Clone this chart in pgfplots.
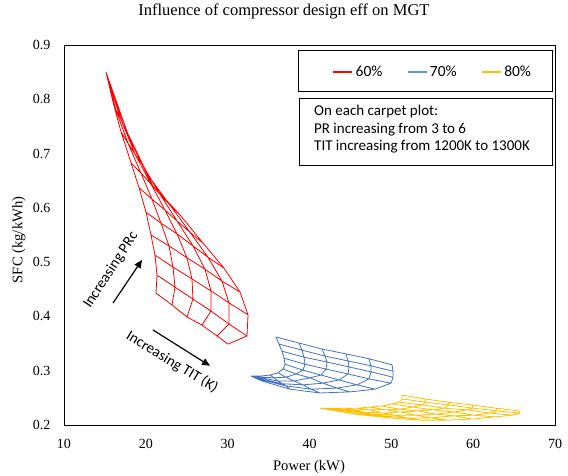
\documentclass[border=0pt]{standalone}
\usepackage{fontspec}
\setmainfont{Liberation Serif}
\newfontfamily\calibri{Carlito}
\usepackage{pgfplots}
\pgfplotsset{compat=1.18}
\usepackage{pgfplotstable}
\usetikzlibrary{arrows.meta}
\definecolor{cred}{RGB}{255,0,0}
\definecolor{cblue}{RGB}{68,114,196}
\definecolor{cblueleg}{RGB}{91,155,213}
\definecolor{cyellow}{RGB}{255,192,0}

% 60% carpet: rows (constant PR) then columns (constant TIT), nan = break
\pgfplotstableread{
x y
21.24 0.443
23.20 0.421
25.03 0.399
26.86 0.384
28.70 0.364
30.04 0.349
nan nan
21.37 0.476
23.56 0.454
25.76 0.432
27.96 0.410
30.16 0.386
32.36 0.364
nan nan
21.12 0.513
23.32 0.491
25.64 0.469
27.96 0.447
30.16 0.425
32.49 0.403
nan nan
20.63 0.550
22.83 0.530
25.03 0.508
27.23 0.487
29.31 0.465
31.51 0.445
nan nan
20.02 0.592
21.85 0.572
23.81 0.552
25.76 0.530
27.60 0.509
29.55 0.489
nan nan
19.17 0.637
20.75 0.616
22.34 0.596
23.81 0.576
25.40 0.555
26.99 0.535
nan nan
18.19 0.683
19.41 0.664
20.63 0.644
21.73 0.625
22.95 0.605
24.18 0.587
nan nan
16.97 0.740
17.82 0.719
18.68 0.699
19.53 0.681
20.27 0.660
20.88 0.640
nan nan
15.99 0.795
16.35 0.780
16.84 0.767
17.21 0.753
17.70 0.740
18.07 0.725
nan nan
21.24 0.443
21.37 0.476
21.12 0.513
20.63 0.550
20.02 0.592
19.17 0.637
18.19 0.683
16.97 0.740
15.99 0.795
15.13 0.850
nan nan
23.20 0.421
23.56 0.454
23.32 0.491
22.83 0.530
21.85 0.572
20.75 0.616
19.41 0.664
17.82 0.719
16.35 0.780
15.13 0.850
nan nan
25.03 0.399
25.76 0.432
25.64 0.469
25.03 0.508
23.81 0.552
22.34 0.596
20.63 0.644
18.68 0.699
16.84 0.767
15.13 0.850
nan nan
26.86 0.384
27.96 0.410
27.96 0.447
27.23 0.487
25.76 0.530
23.81 0.576
21.73 0.625
19.53 0.681
17.21 0.753
15.13 0.850
nan nan
28.70 0.364
30.16 0.386
30.16 0.425
29.31 0.465
27.60 0.509
25.40 0.555
22.95 0.605
20.27 0.660
17.70 0.740
15.13 0.850
nan nan
30.04 0.349
32.36 0.364
32.49 0.403
31.51 0.445
29.55 0.489
26.99 0.535
24.18 0.587
20.88 0.640
18.07 0.725
15.13 0.850
}\redcarpet

% 70% carpet
\pgfplotstableread{
x y
35.91 0.362
38.72 0.351
41.53 0.340
44.46 0.331
47.27 0.322
50.08 0.311
nan nan
36.27 0.349
39.08 0.338
41.90 0.327
44.71 0.318
47.52 0.309
50.21 0.299
nan nan
36.64 0.336
39.33 0.325
42.14 0.316
44.83 0.307
47.52 0.298
50.21 0.288
nan nan
36.89 0.323
39.45 0.312
42.02 0.303
44.71 0.294
47.27 0.285
49.96 0.277
nan nan
37.01 0.312
39.21 0.301
41.41 0.292
43.61 0.283
45.81 0.274
48.01 0.266
nan nan
36.76 0.303
38.35 0.294
40.06 0.287
41.65 0.277
43.36 0.268
44.95 0.261
nan nan
36.15 0.296
37.13 0.288
38.11 0.281
39.21 0.274
40.18 0.266
41.28 0.259
nan nan
35.17 0.292
35.66 0.287
36.15 0.281
36.64 0.276
37.13 0.272
37.62 0.266
nan nan
33.95 0.290
33.95 0.288
34.07 0.287
34.07 0.285
34.20 0.283
34.20 0.281
nan nan
35.91 0.362
36.27 0.349
36.64 0.336
36.89 0.323
37.01 0.312
36.76 0.303
36.15 0.296
35.17 0.292
33.95 0.290
32.85 0.290
nan nan
38.72 0.351
39.08 0.338
39.33 0.325
39.45 0.312
39.21 0.301
38.35 0.294
37.13 0.288
35.66 0.287
33.95 0.288
32.85 0.290
nan nan
41.53 0.340
41.90 0.327
42.14 0.316
42.02 0.303
41.41 0.292
40.06 0.287
38.11 0.281
36.15 0.281
34.07 0.287
32.85 0.290
nan nan
44.46 0.331
44.71 0.318
44.83 0.307
44.71 0.294
43.61 0.283
41.65 0.277
39.21 0.274
36.64 0.276
34.07 0.285
32.85 0.290
nan nan
47.27 0.322
47.52 0.309
47.52 0.298
47.27 0.285
45.81 0.274
43.36 0.268
40.18 0.266
37.13 0.272
34.20 0.283
32.85 0.290
nan nan
50.08 0.311
50.21 0.299
50.21 0.288
49.96 0.277
48.01 0.266
44.95 0.261
41.28 0.259
37.62 0.266
34.20 0.281
32.85 0.290
}\bluecarpet

% 80% carpet
\pgfplotstableread{
x y
51.31 0.255
54.12 0.248
56.93 0.242
59.86 0.237
62.79 0.231
65.60 0.226
nan nan
51.31 0.248
54.24 0.242
57.05 0.237
59.98 0.231
62.92 0.226
65.73 0.222
nan nan
50.94 0.242
53.75 0.237
56.44 0.231
59.25 0.228
62.06 0.222
64.75 0.218
nan nan
50.08 0.239
52.65 0.233
55.09 0.228
57.66 0.224
60.10 0.218
62.67 0.215
nan nan
48.86 0.235
51.06 0.229
53.26 0.226
55.46 0.220
57.66 0.217
59.86 0.211
nan nan
47.39 0.233
49.23 0.228
51.06 0.224
53.02 0.218
54.85 0.213
56.81 0.209
nan nan
45.81 0.231
47.39 0.228
48.86 0.222
50.45 0.218
51.92 0.213
53.51 0.209
nan nan
44.34 0.231
45.44 0.228
46.54 0.224
47.64 0.220
48.74 0.217
49.84 0.213
nan nan
42.75 0.231
43.36 0.229
43.97 0.228
44.46 0.226
45.07 0.222
45.56 0.220
nan nan
51.31 0.255
51.31 0.248
50.94 0.242
50.08 0.239
48.86 0.235
47.39 0.233
45.81 0.231
44.34 0.231
42.75 0.231
41.28 0.231
nan nan
54.12 0.248
54.24 0.242
53.75 0.237
52.65 0.233
51.06 0.229
49.23 0.228
47.39 0.228
45.44 0.228
43.36 0.229
41.28 0.231
nan nan
56.93 0.242
57.05 0.237
56.44 0.231
55.09 0.228
53.26 0.226
51.06 0.224
48.86 0.222
46.54 0.224
43.97 0.228
41.28 0.231
nan nan
59.86 0.237
59.98 0.231
59.25 0.228
57.66 0.224
55.46 0.220
53.02 0.218
50.45 0.218
47.64 0.220
44.46 0.226
41.28 0.231
nan nan
62.79 0.231
62.92 0.226
62.06 0.222
60.10 0.218
57.66 0.217
54.85 0.213
51.92 0.213
48.74 0.217
45.07 0.222
41.28 0.231
nan nan
65.60 0.226
65.73 0.222
64.75 0.218
62.67 0.215
59.86 0.211
56.81 0.209
53.51 0.209
49.84 0.213
45.56 0.220
41.28 0.231
}\yellowcarpet

\begin{document}
\begin{tikzpicture}
\useasboundingbox (-64pt,-50pt) rectangle (504pt,425pt);
\begin{axis}[
  at={(0pt,0pt)}, anchor=south west,
  scale only axis, width=491pt, height=380pt,
  xmin=10, xmax=70, ymin=0.2, ymax=0.9,
  xtick={10,20,30,40,50,60,70},
  ytick={0.2,0.3,0.4,0.5,0.6,0.7,0.8,0.9},
  major tick length=0pt,
  axis line style={black, line width=0.8pt},
  /pgf/number format/assume math mode=true,
  tick label style={font=\fontsize{14}{16}\selectfont},
  yticklabel style={anchor=east, xshift=-10pt, /pgf/number format/.cd, fixed, precision=1, zerofill},
  xticklabel style={anchor=base, yshift=-23pt},
  title={Influence of compressor design eff on MGT},
  title style={font=\fontsize{16.5}{20}\selectfont, at={([yshift=28pt]axis description cs:0.448,1)}, anchor=center},
  xlabel={Power (kW)},
  xlabel style={font=\fontsize{14.6}{17}\selectfont, at={([yshift=-42pt]axis description cs:0.499,0)}, anchor=center},
  ylabel={SFC (kg/kWh)},
  ylabel style={font=\fontsize{14.6}{17}\selectfont, at={([xshift=-45pt]axis description cs:0,0.487)}, anchor=center},
  legend columns=3,
  legend image code/.code={\draw[#1, line width=2.5pt] (0pt,0pt) -- (19pt,0pt);},
  legend style={at={(rel axis cs:0.5458,0.929)}, anchor=west, draw=none, fill=none, inner sep=0pt,
    font=\calibri\fontsize{15.5}{18}\selectfont, nodes={inner sep=2pt},
    /tikz/every even column/.append style={column sep=22pt}},
]
\addplot[cred, line width=0.8pt, mark=none, unbounded coords=jump, forget plot] table {\redcarpet};
\addplot[cblue, line width=0.8pt, mark=none, unbounded coords=jump, forget plot] table {\bluecarpet};
\addplot[cyellow, line width=0.8pt, mark=none, unbounded coords=jump, forget plot] table {\yellowcarpet};
\addlegendimage{cred}
\addlegendentry{60\%}
\addlegendimage{cblueleg}
\addlegendentry{70\%}
\addlegendimage{cyellow}
\addlegendentry{80\%}

\draw[black, line width=0.8pt] (axis cs:38.60,0.8907) rectangle (axis cs:69.64,0.8152);
\draw[black, line width=0.8pt] (axis cs:38.72,0.8023) rectangle (axis cs:69.64,0.6789);
\node[anchor=west, align=left, inner sep=0pt, font=\calibri\fontsize{15}{17.5}\selectfont]
  at (axis cs:40.55,0.7443) {On each carpet plot:\\PR increasing from 3 to 6\\TIT increasing from 1200K to 1300K};

\node[rotate=57, font=\calibri\fontsize{15}{18}\selectfont] at (axis cs:15.74,0.4855) {Increasing PRc};
\draw[-{Triangle[length=8pt,width=7pt]}, line width=1.2pt, black] (axis cs:15.99,0.4247) -- (axis cs:19.53,0.504);
\node[rotate=-31, font=\calibri\fontsize{15}{18}\selectfont] at (axis cs:23.20,0.316) {Increasing TIT (K)};
\draw[-{Triangle[length=8pt,width=7pt]}, line width=1.2pt, black] (axis cs:20.88,0.375) -- (axis cs:27.84,0.309);
\end{axis}
\end{tikzpicture}
\end{document}
